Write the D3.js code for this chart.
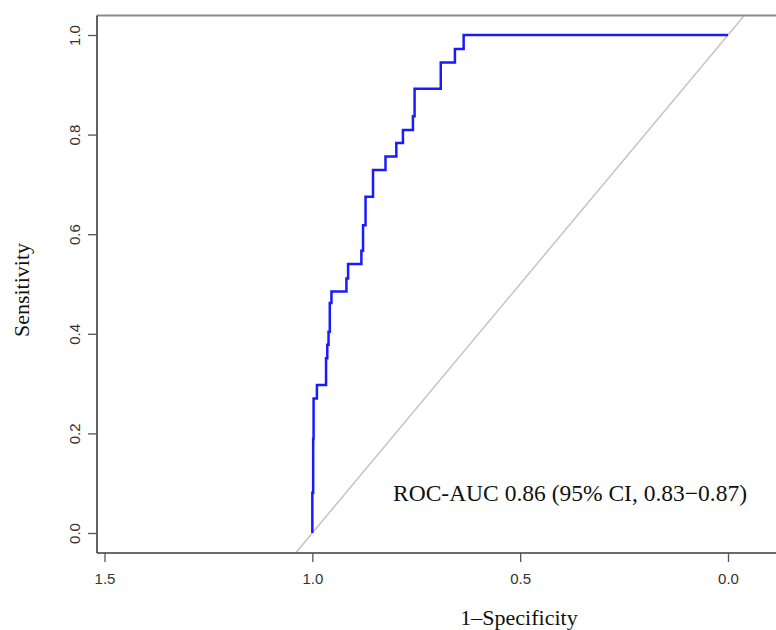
<!DOCTYPE html>
<html>
<head>
<meta charset="utf-8">
<script src="https://cdn.jsdelivr.net/npm/d3@7"></script>
<style>
  html, body { margin: 0; padding: 0; background: #fff; }
  svg { display: block; }
</style>
</head>
<body>
<svg id="chart" width="776" height="630"></svg>
<script>
// ROC curve corner points (specificity axis value, sensitivity)
const specificity = [1.000, 1.000, 0.998, 0.998, 0.997, 0.997, 0.989, 0.989, 0.967, 0.967, 0.964, 0.964,
  0.961, 0.961, 0.958, 0.958, 0.954, 0.954, 0.918, 0.918, 0.914, 0.914, 0.882, 0.882, 0.878, 0.878,
  0.872, 0.872, 0.854, 0.854, 0.824, 0.824, 0.798, 0.798, 0.782, 0.782, 0.758, 0.758, 0.754, 0.754,
  0.691, 0.691, 0.657, 0.657, 0.636, 0.636, 0.000];
const sensitivity = [0.000, 0.081, 0.081, 0.189, 0.189, 0.270, 0.270, 0.297, 0.297, 0.351, 0.351, 0.378,
  0.378, 0.404, 0.404, 0.462, 0.462, 0.485, 0.485, 0.511, 0.511, 0.540, 0.540, 0.567, 0.567, 0.618,
  0.618, 0.675, 0.675, 0.729, 0.729, 0.756, 0.756, 0.783, 0.783, 0.809, 0.809, 0.837, 0.837, 0.892,
  0.892, 0.945, 0.945, 0.972, 0.972, 1.000, 1.000];
const xTicks = [1.5, 1.0, 0.5, 0.0];
const yTicks = [0.0, 0.2, 0.4, 0.6, 0.8, 1.0];
const annotation = "ROC-AUC 0.86 (95% CI, 0.83\u22120.87)";
const xLabel = "1\u2013Specificity";
const yLabel = "Sensitivity";

const svg = d3.select("#chart");
const box = { left: 97, top: 15.5, right: 776, bottom: 553 };

const x = d3.scaleLinear().domain([1.5, 0]).range([104.5, 728]);
const y = d3.scaleLinear().domain([0, 1]).range([533, 35]);

svg.append("defs").append("clipPath").attr("id", "clip")
  .append("rect")
  .attr("x", box.left).attr("y", box.top)
  .attr("width", box.right - box.left).attr("height", box.bottom - box.top);

// diagonal reference line: sens = 1 - spec
const diag = [[1.2, -0.2], [-0.2, 1.2]];
svg.append("path")
  .attr("clip-path", "url(#clip)")
  .attr("d", d3.line().x(d => x(d[0])).y(d => y(d[1]))(diag))
  .attr("fill", "none")
  .attr("stroke", "#c4c4c4")
  .attr("stroke-width", 1.5);

// ROC curve
const pts = specificity.map((s, i) => [s, sensitivity[i]]);
svg.append("path")
  .attr("clip-path", "url(#clip)")
  .attr("d", d3.line().x(d => x(d[0])).y(d => y(d[1]))(pts))
  .attr("fill", "none")
  .attr("stroke", "#1a1aff")
  .attr("stroke-width", 2.5)
  .attr("stroke-linejoin", "miter");

// frame lines
svg.append("line")
  .attr("x1", box.left).attr("x2", box.right)
  .attr("y1", box.top).attr("y2", box.top)
  .attr("stroke", "#8a8a8a").attr("stroke-width", 2);
svg.append("line")
  .attr("x1", box.left).attr("x2", box.left)
  .attr("y1", box.top).attr("y2", box.bottom)
  .attr("stroke", "#3a3a3a").attr("stroke-width", 1.6);
svg.append("line")
  .attr("x1", box.left).attr("x2", box.right)
  .attr("y1", box.bottom).attr("y2", box.bottom)
  .attr("stroke", "#3a3a3a").attr("stroke-width", 1.6);

// x axis
const gx = svg.append("g")
  .attr("transform", `translate(0,${box.bottom})`)
  .call(d3.axisBottom(x).tickValues(xTicks).tickFormat(d3.format(".1f")).tickSize(9).tickPadding(11));
gx.select(".domain").remove();
gx.selectAll(".tick line").attr("stroke", "#555").attr("stroke-width", 1.3);
gx.selectAll(".tick text")
  .attr("font-family", "'Liberation Sans', Arial, sans-serif")
  .attr("font-size", 15).attr("fill", "#333");

// y axis
const gy = svg.append("g")
  .attr("transform", `translate(${box.left},0)`)
  .call(d3.axisLeft(y).tickValues(yTicks).tickFormat(d3.format(".1f")).tickSize(9));
gy.select(".domain").remove();
gy.selectAll(".tick line").attr("stroke", "#555").attr("stroke-width", 1.3);
gy.selectAll(".tick text")
  .attr("font-family", "'Liberation Sans', Arial, sans-serif")
  .attr("font-size", 15).attr("fill", "#333")
  .attr("x", null).attr("dy", null)
  .attr("text-anchor", "middle")
  .attr("transform", "translate(-17,0) rotate(-90)");

// axis titles
svg.append("text")
  .attr("x", 519).attr("y", 625)
  .attr("text-anchor", "middle")
  .attr("font-family", "'Liberation Serif', 'Times New Roman', serif")
  .attr("font-size", 22).attr("fill", "#111")
  .text(xLabel);
svg.append("text")
  .attr("transform", "translate(29,290) rotate(-90)")
  .attr("text-anchor", "middle")
  .attr("font-family", "'Liberation Serif', 'Times New Roman', serif")
  .attr("font-size", 22).attr("fill", "#111")
  .text(yLabel);

// annotation
svg.append("text")
  .attr("x", 393).attr("y", 501)
  .attr("font-family", "'Liberation Serif', 'Times New Roman', serif")
  .attr("font-size", 23.5).attr("fill", "#111")
  .text(annotation);
</script>
</body>
</html>
